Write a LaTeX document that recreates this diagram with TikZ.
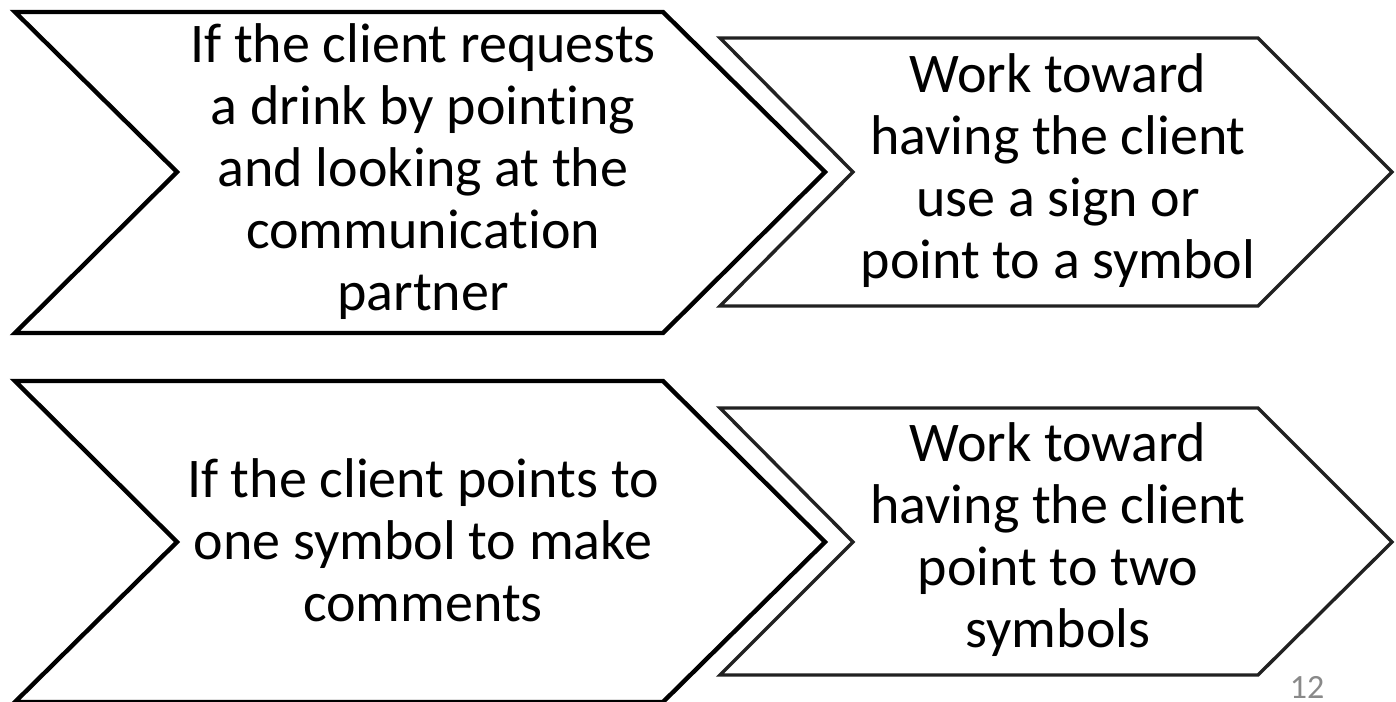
\documentclass[tikz,border=0pt]{standalone}
\usepackage{fontspec}
\setmainfont{Carlito}[Ligatures=NoCommon]
\definecolor{numgrey}{HTML}{898989}

\begin{document}
\begin{tikzpicture}[
        x = 1pt, y = -1pt,
        line join=miter,
        outer/.style = {line width=4.4pt, black},
        inner/.style = {line width=3.4pt, black!87},
        txt/.style = {align=center, font=\fontsize{56}{62}\selectfont},
    ]
        \useasboundingbox (0, 0) rectangle (1396, 701);

        % top row
        \coordinate (t1) at (15, 12);
        \coordinate (t2) at (663, 12);
        \coordinate (t3) at (825, 172);
        \coordinate (t4) at (663, 333);
        \coordinate (t5) at (15, 333);
        \coordinate (t6) at (177, 172);

        \coordinate (u1) at (720, 38);
        \coordinate (u2) at (1258, 38);
        \coordinate (u3) at (1392, 172);
        \coordinate (u4) at (1258, 306);
        \coordinate (u5) at (720, 306);
        \coordinate (u6) at (853, 172);

        % bottom row
        \coordinate (b1) at (15, 381);
        \coordinate (b2) at (663, 381);
        \coordinate (b3) at (825, 542);
        \coordinate (b4) at (663, 702);
        \coordinate (b5) at (15, 702);
        \coordinate (b6) at (177, 542);

        \coordinate (c1) at (720, 408);
        \coordinate (c2) at (1258, 408);
        \coordinate (c3) at (1392, 542);
        \coordinate (c4) at (1258, 675);
        \coordinate (c5) at (720, 675);
        \coordinate (c6) at (853, 542);

        \draw[outer] (t1) -- (t2) -- (t3) -- (t4) -- (t5) -- (t6) -- cycle;
        \draw[inner] (u1) -- (u2) -- (u3) -- (u4) -- (u5) -- (u6) -- cycle;
        \draw[outer] (b1) -- (b2) -- (b3) -- (b4) -- (b5) -- (b6) -- cycle;
        \draw[inner] (c1) -- (c2) -- (c3) -- (c4) -- (c5) -- (c6) -- cycle;

        \node[txt] (drink) at (423, 172) {If the client requests\\a drink by pointing\\and looking at the\\communication\\partner};
        \node[txt] (sign) at (1058, 171) {Work toward\\having the client\\use a sign or\\point to a symbol};
        \node[txt] (onesym) at (423, 540) {If the client points to\\one symbol to make\\comments};
        \node[txt] (twosym) at (1058, 540) {Work toward\\having the client\\point to two\\symbols};

        \node[anchor=base, inner sep=0pt, text=numgrey, font=\fontsize{34}{40}\selectfont] (pagenum) at (1307, 698) {12};

    \end{tikzpicture}
\end{document}
